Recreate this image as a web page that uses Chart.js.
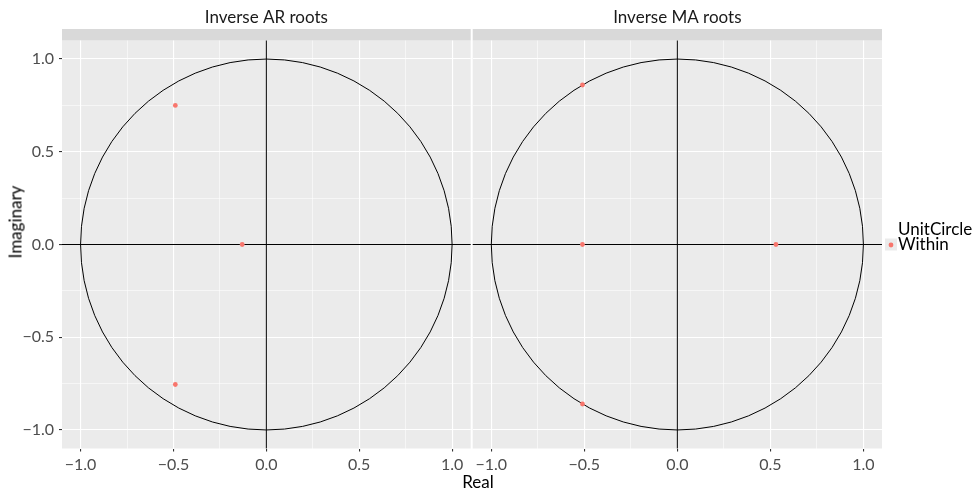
<!DOCTYPE html>
<html>
<head>
<meta charset="utf-8">
<script src="https://cdn.jsdelivr.net/npm/chart.js@4/dist/chart.umd.min.js"></script>
<style>
	body { margin: 0; background: #fff; width: 979px; height: 490px; position: relative; overflow: hidden; font-family: Lato, sans-serif; }
	canvas { position: absolute; top: 0; }
	#arChart { left: 0; }
	#maChart { left: 472px; }
	.axis-title { position: absolute; font-size: 17px; color: #000; white-space: nowrap; }
	#xTitle { left: 478px; top: 481px; transform: translate(-50%, -50%); }
	#yTitle { left: 15px; top: 222px; transform: translate(-50%, -50%) rotate(-90deg); }
</style>
</head>
<body>
<canvas id="arChart" width="472" height="490"></canvas>
<canvas id="maChart" width="507" height="490"></canvas>
<div class="axis-title" id="xTitle">Real</div>
<div class="axis-title" id="yTitle">Imaginary</div>
<script>
// inverse roots
const arReal = [-0.49, -0.49, -0.13];
const arImag = [0.75, -0.755, 0];
const maReal = [-0.51, -0.51, -0.51, 0.53];
const maImag = [0.86, -0.86, 0, 0];

const majorTicks = [-1, -0.5, 0, 0.5, 1];
const minorTicks = [-0.75, -0.25, 0.25, 0.75];
const axisLimit = 1.1;

const panelTitles = ['Inverse AR roots', 'Inverse MA roots'];
const legendTitle = 'UnitCircle';
const legendLabel = 'Within';

const pointColor = '#F8766D';
const panelBg = '#EBEBEB';
const stripBg = '#D9D9D9';
const tickFont = { family: 'Lato, sans-serif', size: 16 };

function isMajor(v) {
	return majorTicks.some(m => Math.abs(m - v) < 1e-9);
}

function fmtTick(v) {
	if (!isMajor(v)) return '';
	const s = Math.abs(v).toFixed(1);
	return v < 0 ? '\u2212' + s : s;
}

function axis(opts) {
	return {
		type: 'linear',
		min: -axisLimit,
		max: axisLimit,
		afterBuildTicks(scale) {
			scale.ticks = majorTicks.concat(minorTicks).sort((a, b) => a - b).map(v => ({ value: v }));
		},
		border: { display: false },
		grid: {
			color: '#fff',
			lineWidth: ctx => (ctx.tick && isMajor(ctx.tick.value)) ? 1.1 : 0.55,
			tickColor: ctx => (ctx.tick && isMajor(ctx.tick.value)) ? '#333' : 'rgba(0,0,0,0)',
			tickLength: opts.showTicks ? 3 : 0,
			drawTicks: opts.showTicks
		},
		ticks: {
			display: opts.showTicks,
			autoSkip: false,
			maxRotation: 0,
			color: '#4D4D4D',
			font: tickFont,
			padding: opts.pad,
			callback: v => fmtTick(v)
		},
		afterFit(scale) {
			if (scale.isHorizontal()) scale.height = opts.size;
			else scale.width = opts.size;
			// keep the panel edges where the layout padding puts them
			scale.paddingLeft = scale.paddingRight = 0;
			scale.paddingTop = scale.paddingBottom = 0;
		}
	};
}

const panelPlugin = {
	id: 'panelPlugin',
	beforeDraw(chart) {
		const { ctx, chartArea: a } = chart;
		ctx.save();
		ctx.fillStyle = panelBg;
		ctx.fillRect(a.left, a.top, a.right - a.left, a.bottom - a.top);
		// facet strip and its label
		ctx.fillStyle = stripBg;
		ctx.fillRect(a.left, 29, a.right - a.left, a.top - 29);
		ctx.fillStyle = '#1A1A1A';
		ctx.font = '17px Lato, sans-serif';
		ctx.textAlign = 'center';
		ctx.textBaseline = 'alphabetic';
		ctx.fillText(chart.options.plugins.panelPlugin.title, (a.left + a.right) / 2, 23);
		ctx.restore();
	},
	beforeDatasetsDraw(chart) {
		const { ctx, chartArea: a, scales: { x, y } } = chart;
		const x0 = x.getPixelForValue(0), y0 = y.getPixelForValue(0);
		const rx = x.getPixelForValue(1) - x0;
		const ry = y0 - y.getPixelForValue(1);
		ctx.save();
		ctx.strokeStyle = '#000';
		ctx.lineWidth = 1;
		ctx.beginPath();
		ctx.moveTo(x0, a.top); ctx.lineTo(x0, a.bottom);
		ctx.moveTo(a.left, y0); ctx.lineTo(a.right, y0);
		ctx.stroke();
		ctx.beginPath();
		ctx.ellipse(x0, y0, rx, ry, 0, 0, Math.PI * 2);
		ctx.stroke();
		ctx.restore();
	},
	afterDraw(chart) {
		if (!chart.options.plugins.panelPlugin.legend) return;
		const { ctx, chartArea: a } = chart;
		const y0 = chart.scales.y.getPixelForValue(0);
		ctx.save();
		ctx.fillStyle = panelBg;
		ctx.fillRect(a.right + 3, y0 - 6, 12, 12);
		ctx.fillStyle = pointColor;
		ctx.beginPath();
		ctx.arc(a.right + 9, y0 + 0.5, 2.4, 0, Math.PI * 2);
		ctx.fill();
		ctx.fillStyle = '#000';
		ctx.font = '17px Lato, sans-serif';
		ctx.textAlign = 'left';
		ctx.textBaseline = 'middle';
		ctx.fillText(legendTitle, a.right + 16, y0 - 15);
		ctx.fillText(legendLabel, a.right + 16, y0);
		ctx.restore();
	}
};

function makePanel(id, re, im, cfg) {
	const canvas = document.getElementById(id);
	if (!canvas) return;
	new Chart(canvas.getContext('2d'), {
		type: 'scatter',
		data: {
			datasets: [{
				label: legendLabel,
				data: re.map((v, i) => ({ x: v, y: im[i] })),
				backgroundColor: pointColor,
				borderWidth: 0,
				pointRadius: 2.4
			}]
		},
		options: {
			responsive: false,
			animation: false,
			devicePixelRatio: 1,
			layout: { padding: cfg.padding, autoPadding: false },
			plugins: {
				legend: { display: false },
				tooltip: { enabled: false },
				panelPlugin: { title: cfg.title, legend: cfg.legend }
			},
			scales: {
				x: axis({ showTicks: true, pad: 4, size: 41.5 }),
				y: axis({ showTicks: cfg.yTicks, pad: 5, size: cfg.yWidth })
			}
		},
		plugins: [panelPlugin]
	});
}

makePanel('arChart', arReal, arImag, {
	title: panelTitles[0], legend: false, yTicks: true, yWidth: 62,
	padding: { left: 0, right: 1.3, top: 40.5, bottom: 0 }
});
makePanel('maChart', maReal, maImag, {
	title: panelTitles[1], legend: true, yTicks: false, yWidth: 0,
	padding: { left: 0.7, right: 97, top: 40.5, bottom: 0 }
});
</script>
</body>
</html>
